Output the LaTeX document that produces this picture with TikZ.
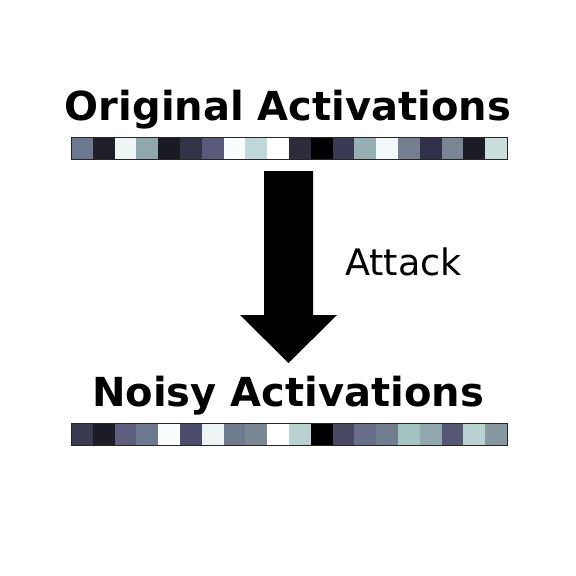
\documentclass[tikz,border=0pt]{standalone}
\usepackage{fontspec}
\setmainfont{DejaVu Sans}
\newcommand{\topcolors}{6E7890,1F1F2A,EEF5F5,8FA8AD,1A1A22,333348,5A5A7A,FAFDFD,C0D8DA,FFFFFF,2C2C3C,000000,3A3A52,96B0B4,F3F8FA,747E90,30304A,7A8696,1C1C26,CBDEDE}
\newcommand{\botcolors}{3A3A50,1C1C26,5E5E7E,6C7890,FAFDFD,4C4C6C,EEF4F4,707A8E,7A8894,FFFFFF,B8D2D2,000000,484862,686E8A,727E90,A4C4C2,90A8AE,555574,B8D2D2,8898A0}
\tikzset{
  title/.style={font=\bfseries\fontsize{40}{45}\selectfont, anchor=base, inner sep=0pt},
  label/.style={font=\fontsize{36.5}{41}\selectfont, anchor=base west, inner sep=0pt},
  barframe/.style={draw=black!85, line width=0.8pt},
  bigarrow/.style={fill=black, draw=none}
}
\begin{document}
\begin{tikzpicture}[x=1pt,y=-1pt]
\useasboundingbox (0,0) rectangle (576,576);
\node[title] (t1) at (288,120) {Original Activations};
\node[title] (t2) at (288,406) {Noisy Activations};
% top bar
\foreach \c [count=\i from 0] in \topcolors {
  \definecolor{cc}{HTML}{\c}
  \fill[cc] (71+\i*21.8,137) rectangle (71+\i*21.8+21.8,159);
}
\draw[barframe] (71,137) rectangle (507,159);
\foreach \c [count=\i from 0] in \botcolors {
  \definecolor{cc}{HTML}{\c}
  \fill[cc] (71+\i*21.8,423) rectangle (71+\i*21.8+21.8,445);
}
\draw[barframe] (71,423) rectangle (507,445);
% arrow
\fill[bigarrow] (264,171) -- (313,171) -- (313,315) -- (337,315) -- (288.5,363) -- (240,315) -- (264,315) -- cycle;
\node[label] (atk) at (345,275) {Attack};
\end{tikzpicture}
\end{document}
